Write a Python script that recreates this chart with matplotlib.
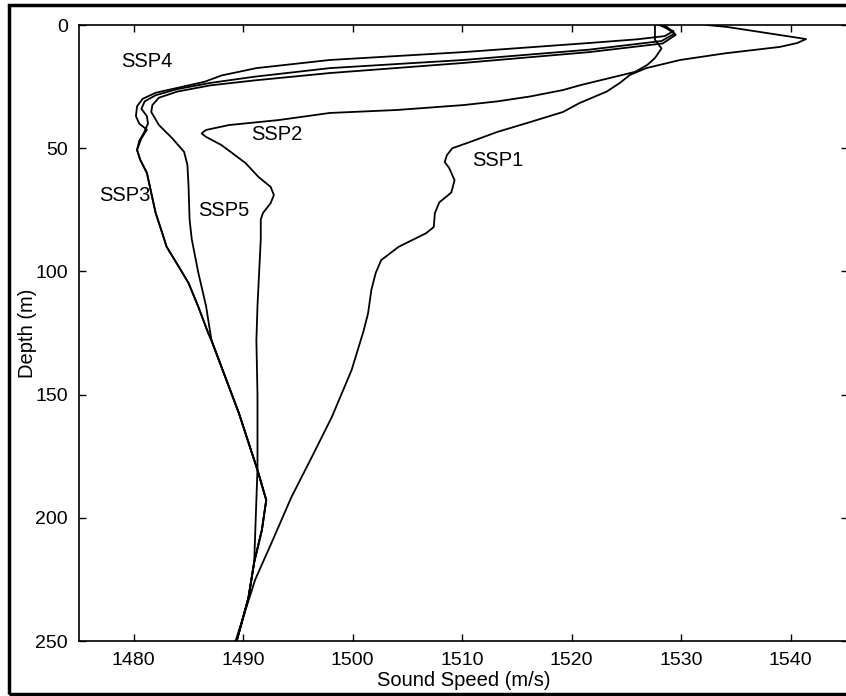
import matplotlib
matplotlib.use("Agg")
import matplotlib.pyplot as plt
from matplotlib.patches import Rectangle

plt.rcParams['font.family'] = ['Liberation Sans', 'DejaVu Sans']

# sound speed (m/s) and depth (m) for each profile
ssp1_c = [1532.3, 1534.2, 1541.4, 1540.6, 1539.0, 1534.0, 1529.9, 1526.8, 1525.3, 1524.4,
          1523.2, 1520.7, 1519.2, 1516.2, 1513.2, 1510.7, 1509.1, 1508.6, 1508.4, 1508.8,
          1509.3, 1509.0, 1507.9, 1507.5, 1507.4, 1506.7, 1504.2, 1502.6, 1502.1, 1501.7,
          1501.4, 1501.0, 1499.9, 1498.1, 1496.3, 1494.4, 1492.6, 1491.1, 1489.3]
ssp1_z = [0.0, 0.8, 5.7, 7.3, 8.9, 11.5, 14.2, 17.5, 20.3, 23.5,
          27.0, 31.7, 35.3, 39.4, 43.4, 47.5, 50.0, 52.8, 55.6, 58.0,
          63.0, 68.0, 72.0, 76.4, 82.0, 84.5, 90.0, 95.4, 100.6, 107.5,
          117.0, 124.0, 140.0, 159.0, 175.0, 191.6, 210.0, 225.0, 250.0]

ssp2_c = [1527.6, 1527.6, 1528.2, 1527.6, 1526.9, 1525.8, 1520.8, 1519.2, 1516.2, 1513.2,
          1510.1, 1504.0, 1497.9, 1493.2, 1488.7, 1486.6, 1486.2, 1486.6, 1488.0, 1489.6,
          1490.2, 1491.4, 1492.5, 1492.8, 1492.5, 1491.8, 1491.6, 1491.6, 1491.3, 1491.2,
          1491.3, 1491.3, 1491.0, 1490.4, 1489.4]
ssp2_z = [0.0, 6.0, 9.5, 13.4, 16.2, 19.0, 24.4, 26.4, 29.0, 31.0,
          32.5, 34.5, 35.7, 38.6, 40.6, 42.6, 44.0, 45.4, 48.7, 54.0,
          56.0, 61.7, 65.7, 69.0, 72.3, 76.3, 79.0, 87.0, 114.0, 128.0,
          150.0, 180.0, 218.0, 234.0, 250.0]

ssp3_c = [1528.2, 1529.4, 1528.2, 1521.6, 1510.1, 1497.9, 1491.0, 1487.0, 1484.0, 1482.0,
          1481.0, 1480.7, 1481.2, 1481.3, 1480.9, 1480.5, 1480.3, 1480.6, 1481.2, 1481.6,
          1482.0, 1482.6, 1483.0, 1484.1, 1485.0, 1485.9, 1486.8, 1487.1, 1489.6, 1491.3,
          1492.1, 1491.7, 1491.0, 1490.5, 1489.4]
ssp3_z = [0.0, 3.5, 6.5, 10.0, 14.2, 17.5, 21.0, 23.5, 26.0, 28.5,
          31.0, 34.0, 37.0, 40.0, 44.0, 47.0, 50.7, 54.8, 60.0, 68.2,
          76.3, 84.4, 90.0, 98.0, 104.7, 114.4, 125.0, 128.0, 157.5, 180.6,
          192.8, 205.0, 218.0, 232.0, 250.0]

ssp4_c = [1528.0, 1529.3, 1528.5, 1526.0, 1521.6, 1510.1, 1497.9, 1491.2, 1488.0, 1486.5,
          1484.0, 1482.0, 1480.8, 1480.3, 1480.2, 1480.5, 1481.2, 1480.7, 1480.3, 1480.6,
          1481.2, 1481.6, 1482.0, 1482.6, 1483.0, 1484.1, 1485.0, 1485.9, 1486.8, 1487.1,
          1489.6, 1491.3, 1492.1, 1491.7, 1491.0, 1490.5, 1489.4]
ssp4_z = [0.0, 2.5, 4.5, 5.8, 7.3, 11.0, 14.2, 17.5, 20.5, 23.0,
          25.5, 27.5, 30.0, 33.0, 37.0, 40.0, 42.5, 46.0, 50.7, 54.8,
          60.0, 68.2, 76.3, 84.4, 90.0, 98.0, 104.7, 114.4, 125.0, 128.0,
          157.5, 180.6, 192.8, 205.0, 218.0, 232.0, 250.0]

ssp5_c = [1528.5, 1529.5, 1528.3, 1521.6, 1510.1, 1497.9, 1491.0, 1487.0, 1484.0, 1482.3,
          1481.7, 1481.6, 1482.3, 1483.5, 1484.6, 1484.9, 1485.0, 1485.1, 1485.3, 1485.9,
          1486.6, 1487.1, 1489.6, 1491.3, 1492.1, 1491.7, 1491.0, 1490.5, 1489.4]
ssp5_z = [0.0, 4.0, 7.5, 11.0, 15.4, 19.5, 22.5, 24.5, 27.0, 29.5,
          32.5, 35.3, 40.6, 45.9, 51.5, 56.8, 65.0, 79.0, 87.0, 100.6,
          114.0, 128.0, 157.5, 180.6, 192.8, 205.0, 218.0, 232.0, 250.0]

labels = ['SSP1', 'SSP2', 'SSP3', 'SSP4', 'SSP5']
label_c = [1513.2, 1493.1, 1479.2, 1481.2, 1488.2]
label_z = [54.9, 44.6, 69.0, 15.0, 75.3]

fig = plt.figure(figsize=(8.46, 6.96), dpi=100)
ax = fig.add_axes([79 / 846, 55 / 696, 769 / 846, 616 / 696])

for c, z in [(ssp1_c, ssp1_z), (ssp2_c, ssp2_z), (ssp3_c, ssp3_z),
             (ssp4_c, ssp4_z), (ssp5_c, ssp5_z)]:
    ax.plot(c, z, color='black', lw=1.3)

for name, c, z in zip(labels, label_c, label_z):
    ax.text(c, z, name, fontsize=14.5, ha='center', va='center')

ax.set_xlim(1475, 1545.23)
ax.set_ylim(250, 0)
ax.set_xticks([1480, 1490, 1500, 1510, 1520, 1530, 1540])
ax.set_yticks([0, 50, 100, 150, 200, 250])
ax.tick_params(direction='in', top=True, right=True, length=5, width=1,
               labelsize=14, pad=8)
for s in ax.spines.values():
    s.set_linewidth(1.2)

ax.set_xlabel('Sound Speed (m/s)', fontsize=14.5, labelpad=1)
ax.set_ylabel('Depth (m)', fontsize=14.5, labelpad=-1)

# frame round the whole picture
fig.patches.append(Rectangle((9 / 846, 2 / 696), 845 / 846, 689 / 696,
                             transform=fig.transFigure, fill=False,
                             lw=2.5, ec='black'))

fig.savefig('out.png', dpi=100)
